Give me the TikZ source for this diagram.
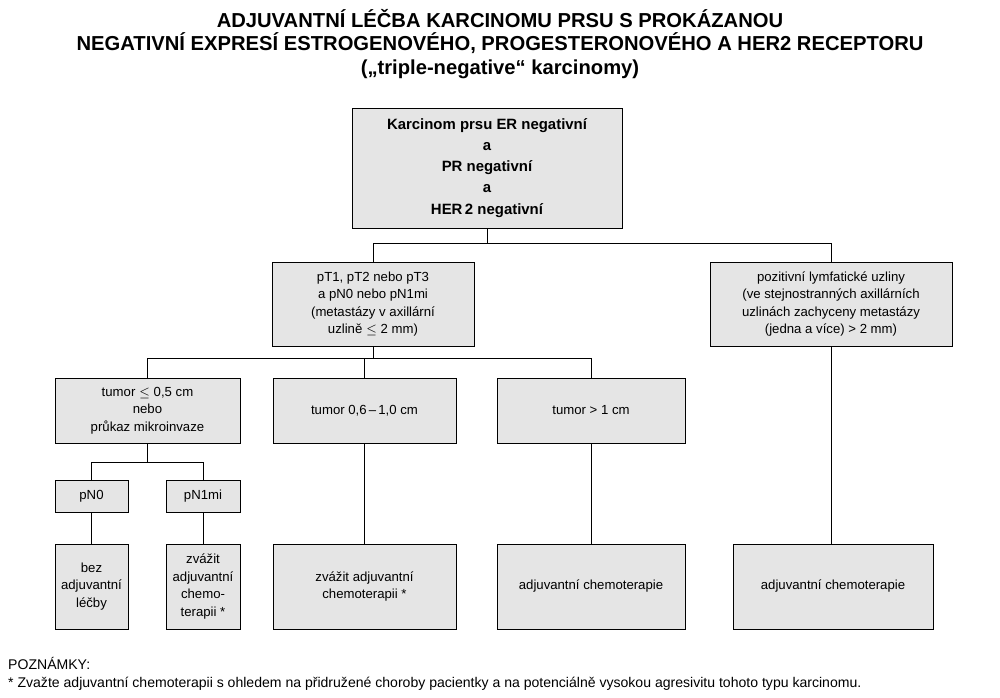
\documentclass[tikz,border=0pt]{standalone}
\usepackage{fontspec}
\setmainfont{Liberation Sans}
\begin{document}
\begin{tikzpicture}[x=0.02cm,y=-0.02cm,
        box/.style={draw, fill=gray!20, line width=0.5pt, align=center, inner sep=1pt, font=\fontsize{7.5}{10}\selectfont},
        title/.style={font=\fontsize{11.5}{13.5}\selectfont\bfseries, align=center},
        link/.style={draw, line width=0.5pt}
    ]
	\useasboundingbox (0,0) rectangle (1000,697);
	% title
	\node[title] (head) at (500,44) {ADJUVANTNÍ LÉČBA KARCINOMU PRSU S PROKÁZANOU\\NEGATIVNÍ EXPRESÍ ESTROGENOVÉHO, PROGESTERONOVÉHO A HER2 RECEPTORU\\(„triple-negative“ karcinomy)};
	% boxes
	\node[box, minimum width=270*0.02cm, minimum height=120*0.02cm, font=\fontsize{8.5}{12}\selectfont\bfseries] (root) at (487,168) {Karcinom prsu ER negativní\\a\\PR negativní\\a\\HER\,2 negativní};
	\node[box, minimum width=202*0.02cm, minimum height=84*0.02cm] (pt) at (373,304) {pT1, pT2 nebo pT3\\a pN0 nebo pN1mi\\(metastázy v axillární\\uzlině $\leq$ 2 mm)};
	\node[box, minimum width=242*0.02cm, minimum height=84*0.02cm] (pos) at (831,304) {pozitivní lymfatické uzliny\\(ve stejnostranných axillárních\\uzlinách zachyceny metastázy\\(jedna a více) > 2 mm)};
	\node[box, minimum width=185*0.02cm, minimum height=65*0.02cm] (small) at (147.5,410.5) {tumor $\leq$ 0,5 cm\\nebo\\průkaz mikroinvaze};
	\node[box, minimum width=183*0.02cm, minimum height=65*0.02cm] (mid) at (364.5,410.5) {tumor 0,6\,–\,1,0 cm};
	\node[box, minimum width=188*0.02cm, minimum height=65*0.02cm] (big) at (591,410.5) {tumor > 1 cm};
	\node[box, minimum width=73*0.02cm, minimum height=32*0.02cm] (pn0) at (91.5,496) {pN0};
	\node[box, minimum width=74*0.02cm, minimum height=32*0.02cm] (pn1) at (203,496) {pN1mi};
	\node[box, minimum width=73*0.02cm, minimum height=85*0.02cm] (none) at (91.5,586.5) {bez\\adjuvantní\\léčby};
	\node[box, minimum width=74*0.02cm, minimum height=85*0.02cm] (cons) at (203,586.5) {zvážit\\adjuvantní\\chemo-\\terapii *};
	\node[box, minimum width=183*0.02cm, minimum height=85*0.02cm] (consb) at (364.5,586.5) {zvážit adjuvantní\\chemoterapii *};
	\node[box, minimum width=188*0.02cm, minimum height=85*0.02cm] (chem) at (591,586.5) {adjuvantní chemoterapie};
	\node[box, minimum width=200*0.02cm, minimum height=85*0.02cm] (chemb) at (833,586.5) {adjuvantní chemoterapie};
	% connectors
	\coordinate (j1) at (487,243);
	\coordinate (j2) at (373,358);
	\coordinate (j3) at (147.5,462);
	\draw[link] (root) -- (j1);
	\draw[link] (j1) -| (pt);
	\draw[link] (j1) -| (pos);
	\draw[link] (pt) -- (j2);
	\draw[link] (j2) -| (small);
	\draw[link] (j2) -| (mid);
	\draw[link] (j2) -| (big);
	\draw[link] (small) -- (j3);
	\draw[link] (j3) -| (pn0);
	\draw[link] (j3) -| (pn1);
	\draw[link] (pn0) -- (none);
	\draw[link] (pn1) -- (cons);
	\draw[link] (mid) -- (consb);
	\draw[link] (big) -- (chem);
	\draw[link] (pos.south) -- (pos.south |- chemb.north);
	% notes
	\node[anchor=west, font=\fontsize{8}{10}\selectfont] (notes) at (2,663) {POZNÁMKY:};
	\node[anchor=west, font=\fontsize{8}{10}\selectfont] (star) at (2,684) {* Zvažte adjuvantní chemoterapii s ohledem na přidružené choroby pacientky a na potenciálně vysokou agresivitu tohoto typu karcinomu.};
\end{tikzpicture}
\end{document}
